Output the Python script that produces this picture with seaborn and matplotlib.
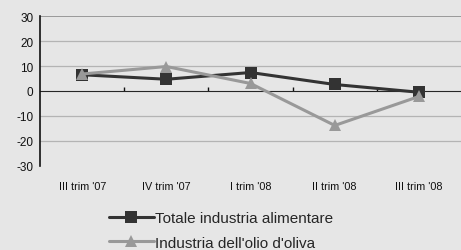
import numpy as np
import pandas as pd
import matplotlib
matplotlib.use("Agg")
import matplotlib.pyplot as plt
import seaborn as sns
from matplotlib.lines import Line2D

# Dati
trimestri = ["III trim '07", "IV trim '07", "I trim '08", "II trim '08", "III trim '08"]
totale = [6.5, 4.7, 7.4, 2.6, -0.5]
olio = [6.8, 9.8, 3.0, -13.8, -2.2]
serie = ["Totale industria alimentare", "Industria dell'olio d'oliva"]

df = pd.DataFrame({
    "pos": list(range(len(trimestri))) * 2,
    "valore": totale + olio,
    "serie": [serie[0]] * len(totale) + [serie[1]] * len(olio),
})

sns.set_style("white")
plt.rcParams['font.family'] = ['Liberation Sans', 'DejaVu Sans']
plt.rcParams['axes.unicode_minus'] = False

bg = "#e6e6e6"
fig = plt.figure(figsize=(4.61, 2.51), dpi=100, facecolor=bg)
ax = fig.add_axes([0.087, 0.335, 0.913, 0.597])
ax.set_facecolor(bg)

sns.lineplot(data=df, x="pos", y="valore", hue="serie", style="serie",
             palette={serie[0]: "#333333", serie[1]: "#999999"},
             markers={serie[0]: "s", serie[1]: "^"}, dashes=False,
             markersize=8, markeredgewidth=0, linewidth=2.2, ax=ax, legend=False)

ax.set_xlim(-0.5, len(trimestri) - 0.5)
ax.set_ylim(-30, 30)
ax.set_yticks(range(-30, 31, 10))
ax.set_xticks(range(len(trimestri)))
ax.set_xticklabels(trimestri)
ax.set_xlabel("")
ax.set_ylabel("")
ax.tick_params(axis="x", length=0, labelsize=7.8, pad=11, colors="#111111")
ax.tick_params(axis="y", length=3, direction="out", labelsize=8.5, colors="#111111", pad=2)

for y in [-20, -10, 10, 20]:
    ax.axhline(y, color="#b4b4b4", lw=0.9, zorder=0)
ax.axhline(30, color="#8c8c8c", lw=1.2, zorder=0)

for s in ["top", "right", "bottom"]:
    ax.spines[s].set_visible(False)
ax.spines["left"].set_color("#111111")
ax.spines["left"].set_linewidth(1.2)

# asse orizzontale sullo zero con tacche tra i trimestri
sec = ax.secondary_xaxis(0.5)
sec.set_xticks(np.arange(0.5, len(trimestri) - 1, 1.0))
sec.set_xticklabels([])
sec.tick_params(length=3, direction="out", color="#111111", width=1)
sec.spines["bottom"].set_color("#555555")
sec.spines["bottom"].set_linewidth(1.2)

handles = [
    Line2D([], [], color="#333333", marker="s", markersize=8, lw=2.2, markeredgewidth=0),
    Line2D([], [], color="#999999", marker="^", markersize=9, lw=2.2, markeredgewidth=0),
]
fig.legend(handles, serie, loc="upper left", bbox_to_anchor=(0.237, 0.155),
           frameon=False, fontsize=11, handlelength=2.9, handletextpad=0.12,
           labelspacing=0.7, borderaxespad=0, borderpad=0)

fig.savefig("out.png", dpi=100, facecolor=bg)
